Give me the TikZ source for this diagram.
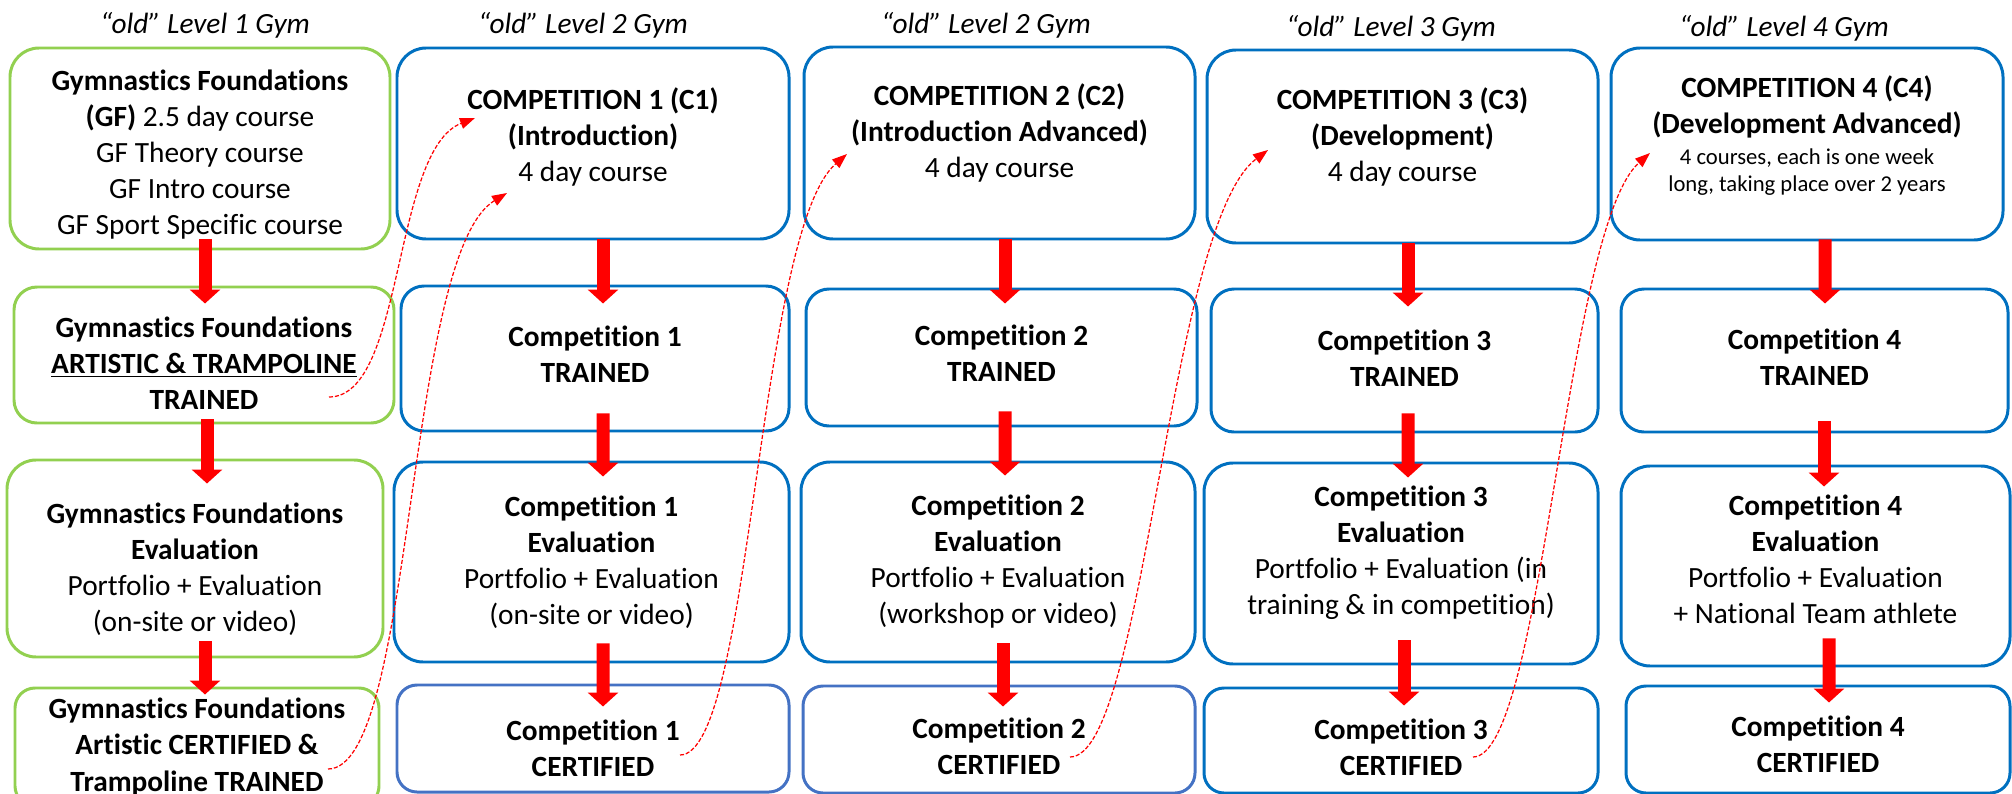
\documentclass[tikz,border=0pt]{standalone}
\usepackage{fontspec}
\setmainfont{Carlito}[Ligatures=NoCommon]
\usetikzlibrary{arrows.meta}
\definecolor{gfgreen}{HTML}{92D050}
\definecolor{compblue}{HTML}{0070C0}
\definecolor{certblue}{HTML}{4472C4}
\newcommand\smallcourse{\fontsize{12.9}{15.4}\selectfont}
% struts to move a box text down (padtop) or up (padbot)
\newcommand\padtop[1]{\rule{0pt}{#1}}
\newcommand\padbot[1]{\rule[-#1]{0pt}{#1}}
\tikzset{
	every node/.style = {font=\fontsize{16.7}{20.5}\selectfont, align=center, inner sep=0pt},
	lvl/.style = {font=\fontsize{16.7}{20.5}\selectfont\itshape},
	box/.style 2 args = {draw, line width=1.7pt, rounded corners=0.58cm, minimum width=#1*0.02cm, minimum height=#2*0.02cm},
	gfbox/.style 2 args = {box={#1}{#2}, draw=gfgreen},
	cbox/.style 2 args = {box={#1}{#2}, draw=compblue},
	midbox/.style = {rounded corners=0.46cm},
	lowbox/.style = {rounded corners=0.4cm},
	blk/.style = {draw=red, line width=0.26cm, -{Triangle[width=0.6cm,length=0.28cm]}},
	link/.style = {draw=red, line width=0.7pt, dash pattern=on 2.3pt off 1.1pt, -{Triangle[width=0.22cm,length=0.3cm]}}
}
\begin{document}
\begin{tikzpicture}[x=0.02cm, y=-0.02cm]
	\useasboundingbox[fill=white] (0,0) rectangle (2012,794);

	% level headers
	\node[lvl] (h1) at (205,25) {“old” Level 1 Gym};
	\node[lvl] (h2) at (583,25) {“old” Level 2 Gym};
	\node[lvl] (h3) at (986,25) {“old” Level 2 Gym};
	\node[lvl] (h4) at (1391,28) {“old” Level 3 Gym};
	\node[lvl] (h5) at (1784,28) {“old” Level 4 Gym};

	% gymnastics foundations
	\node[gfbox={380}{201}] (gf) at (200,148.5) {\padtop{18.8pt}\textbf{Gymnastics Foundations}\\\textbf{(GF)} 2.5 day course\\GF Theory course\\GF Intro course\\GF Sport Specific course};
	\node[gfbox={380}{136}, midbox] (gft) at (204,355) {\padtop{21.4pt}\textbf{Gymnastics Foundations}\\\underline{\textbf{ARTISTIC \& TRAMPOLINE}}\\\textbf{TRAINED}};
	\node[gfbox={376}{197}] (gfe) at (195,558.5) {\padtop{23.7pt}\textbf{Gymnastics Foundations}\\\textbf{Evaluation}\\Portfolio + Evaluation\\(on-site or video)};
	\node[gfbox={364}{118}, lowbox] (gfc) at (197,747) {\textbf{Gymnastics Foundations}\\\textbf{Artistic CERTIFIED \&}\\\textbf{Trampoline TRAINED}};

	% competition 1
	\node[cbox={392}{191}] (c1) at (593,143.5) {\textbf{COMPETITION 1 (C1)}\\\textbf{(Introduction)}\\4 day course\padbot{9.7pt}};
	\node[cbox={388}{145}, midbox] (c1t) at (595,358.5) {\textbf{Competition 1}\\\textbf{TRAINED}\padbot{5.2pt}};
	\node[cbox={395}{200}] (c1e) at (591.5,562) {\textbf{Competition 1}\\\textbf{Evaluation}\\Portfolio + Evaluation\\(on-site or video)};
	\node[cbox={392}{107}, lowbox, draw=certblue] (c1c) at (593,738.5) {\padtop{23pt}\textbf{Competition 1}\\\textbf{CERTIFIED}};

	% competition 2
	\node[cbox={391}{192}] (c2) at (999.5,143) {\textbf{COMPETITION 2 (C2)}\\\textbf{(Introduction Advanced)}\\4 day course\padbot{14.2pt}};
	\node[cbox={391}{137}, midbox] (c2t) at (1001.5,357.5) {\textbf{Competition 2}\\\textbf{TRAINED}\padbot{5.2pt}};
	\node[cbox={394}{200}] (c2e) at (998,562) {\textbf{Competition 2}\\\textbf{Evaluation}\\Portfolio + Evaluation\\(workshop or video)};
	\node[cbox={392}{107}, lowbox, draw=certblue] (c2c) at (999,739.5) {\padtop{19.5pt}\textbf{Competition 2}\\\textbf{CERTIFIED}};

	% competition 3
	\node[cbox={391}{193}] (c3) at (1402.5,146.5) {\textbf{COMPETITION 3 (C3)}\\\textbf{(Development)}\\4 day course\padbot{13.5pt}};
	\node[cbox={387}{143}, midbox] (c3t) at (1404.5,360.5) {\textbf{Competition 3}\\\textbf{TRAINED}\padbot{3pt}};
	\node[cbox={394}{201}] (c3e) at (1401,563.5) {\textbf{Competition 3}\\\textbf{Evaluation}\\Portfolio + Evaluation (in\\training \& in competition)\padbot{14.8pt}};
	\node[cbox={394}{105}, lowbox] (c3c) at (1401,740.5) {\padtop{19pt}\textbf{Competition 3}\\\textbf{CERTIFIED}};

	% competition 4
	\node[cbox={392}{192}] (c4) at (1807,144) {\textbf{COMPETITION 4 (C4)}\\\textbf{(Development Advanced)}\\[-0.09cm]\smallcourse 4 courses, each is one week\\[-0.18cm]\smallcourse long, taking place over 2 years\padbot{11.7pt}};
	\node[cbox={387}{143}, midbox] (c4t) at (1814.5,360.5) {\textbf{Competition 4}\\\textbf{TRAINED}\padbot{3.4pt}};
	\node[cbox={389}{200}] (c4e) at (1815.5,566) {\textbf{Competition 4}\\\textbf{Evaluation}\\Portfolio + Evaluation\\+ National Team athlete\padbot{8pt}};
	\node[cbox={384}{107}, lowbox] (c4c) at (1818,739.5) {\padtop{17.3pt}\textbf{Competition 4}\\\textbf{CERTIFIED}};

	% steps down each column
	\draw[blk] ([shift={(5,-11)}]gf.south) -- ([shift={(1,18)}]gft.north);
	\draw[blk] ([shift={(3,-5)}]gft.south) -- ([shift={(12,25)}]gfe.north);
	\draw[blk] ([shift={(10,-17)}]gfe.south) -- ([shift={(8,8)}]gfc.north);
	\draw[blk] ([shift={(10,-1)}]c1.south) -- ([shift={(8,19)}]c1t.north);
	\draw[blk] ([shift={(8,-19)}]c1t.south) -- ([shift={(11.5,16)}]c1e.north);
	\draw[blk] ([shift={(11.5,-20)}]c1e.south) -- ([shift={(10,23)}]c1c.north);
	\draw[blk] ([shift={(5.5,-1)}]c2.south) -- ([shift={(3.5,16)}]c2t.north);
	\draw[blk] ([shift={(3.5,-16)}]c2t.south) -- ([shift={(7,15)}]c2e.north);
	\draw[blk] ([shift={(5,-20)}]c2e.south) -- ([shift={(4,22)}]c2c.north);
	\draw[blk] ([shift={(5.5,-1)}]c3.south) -- ([shift={(3.5,19)}]c3t.north);
	\draw[blk] ([shift={(3.5,-20)}]c3t.south) -- ([shift={(7,16)}]c3e.north);
	\draw[blk] ([shift={(3,-25)}]c3e.south) -- ([shift={(3,19)}]c3c.north);
	\draw[blk] ([shift={(18,-2)}]c4.south) -- ([shift={(10.5,16)}]c4t.north);
	\draw[blk] ([shift={(9.5,-12)}]c4t.south) -- ([shift={(8.5,22)}]c4e.north);
	\draw[blk] ([shift={(13.5,-29)}]c4e.south) -- ([shift={(11,18)}]c4c.north);

	% links to the next level
	\coordinate (s1) at ([shift={(125,42)}]gft.center);
	\coordinate (e1) at ([shift={(-118,-25.5)}]c1.center);
	\coordinate (s2) at ([shift={(131,22)}]gfc.center);
	\coordinate (e2) at ([shift={(-86,49.5)}]c1.center);
	\coordinate (s3) at ([shift={(87,16.5)}]c1c.center);
	\coordinate (e3) at ([shift={(-152.5,11)}]c2.center);
	\coordinate (s4) at ([shift={(71,17.5)}]c2c.center);
	\coordinate (e4) at ([shift={(-134.5,3.5)}]c3.center);
	\coordinate (s5) at ([shift={(72,16.5)}]c3c.center);
	\coordinate (e5) at ([shift={(-157,9)}]c4.center);
	\draw[link] (s1) .. controls +(76,0) and +(-83,32) .. (e1);
	\draw[link] (s2) .. controls +(87,0) and +(-102,62) .. (e2);
	\draw[link] (s3) .. controls +(72,0) and +(-90,78) .. (e3);
	\draw[link] (s4) .. controls +(75,0) and +(-100,75) .. (e4);
	\draw[link] (s5) .. controls +(70,0) and +(-85,75) .. (e5);
\end{tikzpicture}
\end{document}
